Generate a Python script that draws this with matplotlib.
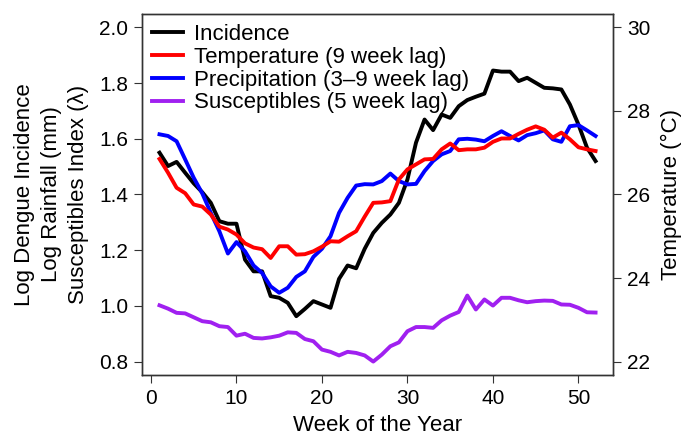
import matplotlib
matplotlib.use("Agg")
import matplotlib.pyplot as plt
import numpy as np

plt.rcParams['font.family'] = ['Liberation Sans', 'DejaVu Sans']

weeks = list(range(1, 53))

incidence = [1.550, 1.502, 1.517, 1.478, 1.440, 1.408, 1.370, 1.304, 1.295, 1.295,
             1.166, 1.124, 1.124, 1.035, 1.029, 1.011, 0.963, 0.989, 1.017, 1.005,
             0.993, 1.097, 1.145, 1.135, 1.205, 1.262, 1.298, 1.328, 1.370, 1.454,
             1.586, 1.669, 1.631, 1.687, 1.675, 1.717, 1.739, 1.751, 1.762, 1.845,
             1.841, 1.841, 1.807, 1.819, 1.801, 1.783, 1.781, 1.777, 1.723, 1.651,
             1.568, 1.520]

temperature = [26.85, 26.52, 26.16, 26.03, 25.76, 25.71, 25.52, 25.23, 25.16, 25.04,
               24.83, 24.73, 24.69, 24.48, 24.76, 24.76, 24.56, 24.57, 24.64, 24.75,
               24.88, 24.87, 25.00, 25.12, 25.47, 25.80, 25.81, 25.84, 26.36, 26.60,
               26.72, 26.84, 26.85, 27.08, 27.22, 27.06, 27.08, 27.08, 27.12, 27.26,
               27.34, 27.34, 27.45, 27.55, 27.63, 27.55, 27.36, 27.48, 27.32, 27.13,
               27.08, 27.04]

precipitation = [1.616, 1.610, 1.591, 1.526, 1.460, 1.404, 1.334, 1.268, 1.188, 1.229,
                 1.196, 1.145, 1.118, 1.070, 1.047, 1.065, 1.104, 1.124, 1.176, 1.205,
                 1.250, 1.334, 1.388, 1.432, 1.437, 1.436, 1.448, 1.475, 1.448, 1.436,
                 1.438, 1.484, 1.520, 1.544, 1.556, 1.598, 1.600, 1.597, 1.591, 1.610,
                 1.627, 1.610, 1.594, 1.613, 1.620, 1.630, 1.598, 1.589, 1.645, 1.649,
                 1.630, 1.610]

susceptibles = [1.002, 0.990, 0.975, 0.973, 0.959, 0.945, 0.941, 0.927, 0.924, 0.893,
                0.900, 0.885, 0.883, 0.887, 0.893, 0.905, 0.903, 0.881, 0.873, 0.843,
                0.835, 0.822, 0.835, 0.831, 0.822, 0.800, 0.825, 0.855, 0.869, 0.909,
                0.924, 0.924, 0.921, 0.948, 0.965, 0.978, 1.037, 0.987, 1.023, 1.001,
                1.029, 1.029, 1.020, 1.013, 1.017, 1.019, 1.018, 1.005, 1.004, 0.993,
                0.977, 0.976]

labels = ["Incidence", "Temperature (9 week lag)", "Precipitation (3\u20139 week lag)",
          "Susceptibles (5 week lag)"]
colors = ["black", "red", "blue", "#A020F0"]

left_ticks = [0.8, 1.0, 1.2, 1.4, 1.6, 1.8, 2.0]
right_ticks = [22, 24, 26, 28, 30]
x_ticks = [0, 10, 20, 30, 40, 50]

fig = plt.figure(figsize=(6.83, 4.37), dpi=100)
ax = fig.add_axes([0.208, 0.142, 0.6895, 0.826])
lw = 2.8

ext_y = 0.04 * (2.0 - 0.8)
ax.set_ylim(0.8 - ext_y, 2.0 + ext_y)
ext_x = 0.04 * (52 - 1)
ax.set_xlim(1 - ext_x, 52 + ext_x)

h1, = ax.plot(weeks, incidence, color=colors[0], lw=lw)
h3, = ax.plot(weeks, precipitation, color=colors[2], lw=lw)
h4, = ax.plot(weeks, susceptibles, color=colors[3], lw=lw)

ax2 = ax.twinx()
ext_t = 0.04 * (30 - 22)
ax2.set_ylim(22 - ext_t, 30 + ext_t)
h2, = ax2.plot(weeks, temperature, color=colors[1], lw=lw)

ax.set_yticks(left_ticks)
ax.set_yticklabels([f"{t:.1f}" for t in left_ticks])
ax.set_xticks(x_ticks)
ax2.set_yticks(right_ticks)

for a in (ax, ax2):
    a.tick_params(direction='out', length=6, width=0.8, labelsize=15, pad=4, color='#333333')
    for s in a.spines.values():
        s.set_linewidth(1.0)
        s.set_color('#333333')

ax.set_xlabel("Week of the Year", fontsize=16, labelpad=5)
ax.set_ylabel("Log Dengue Incidence\nLog Rainfall (mm)\nSusceptibles Index (\u03bb)",
              fontsize=16, linespacing=1.4, labelpad=7)
ax2.set_ylabel("Temperature (\u00b0C)", fontsize=16, labelpad=8)

leg = ax.legend([h1, h2, h3, h4], labels, loc='upper left', frameon=False,
                fontsize=16, handlelength=1.4, handletextpad=0.5,
                labelspacing=0.08, borderaxespad=0.3, borderpad=0.15)

fig.savefig("out.png", dpi=100)
